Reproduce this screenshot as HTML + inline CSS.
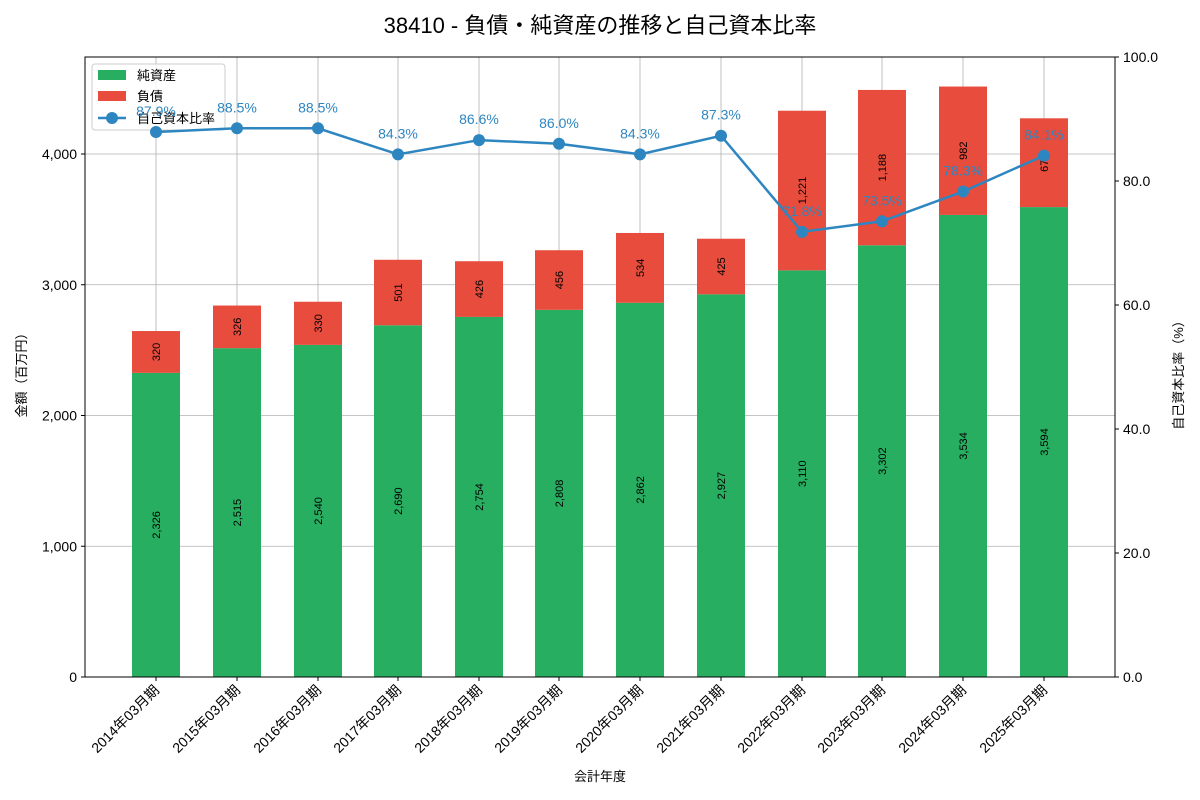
<!DOCTYPE html>
<html><head><meta charset="utf-8"><style>
html,body{margin:0;padding:0;background:#fff;}
svg{display:block;font-family:"Liberation Sans","Noto Sans CJK JP",sans-serif;}
</style></head><body>
<svg id="s" width="1200" height="800" xmlns="http://www.w3.org/2000/svg"></svg>
<script>
const s=document.getElementById('s');
const L=85,R=1115,T=57,B=677;
const yl=v=>B-v*0.13075, yr=p=>B-p*6.2;
const xs=[156,237,318,398,479,559,640,721,802,882,963,1044];
const na=[2326,2515,2540,2690,2754,2808,2862,2927,3110,3302,3534,3594];
const li=[320,326,330,501,426,456,534,425,1221,1188,982,679];
const rt=[87.9,88.5,88.5,84.3,86.6,86.0,84.3,87.3,71.8,73.5,78.3,84.1];
const yrs=["2014","2015","2016","2017","2018","2019","2020","2021","2022","2023","2024","2025"];
let h='';
h+=`<text x="600" y="33" font-size="22" text-anchor="middle" fill="#000">38410 - 負債・純資産の推移と自己資本比率</text>`;
xs.forEach(x=>h+=`<line x1="${x}" y1="${T}" x2="${x}" y2="${B}" stroke="#b0b0b0" stroke-width="0.8"/>`);
[1000,2000,3000,4000].forEach(v=>h+=`<line x1="${L}" y1="${yl(v)}" x2="${R}" y2="${yl(v)}" stroke="#b0b0b0" stroke-width="0.8"/>`);
xs.forEach((x,i)=>{
 const y0=yl(na[i]),y1=yl(na[i]+li[i]);
 h+=`<rect x="${x-24}" y="${y0}" width="48" height="${B-y0}" fill="#27ae60"/>`;
 h+=`<rect x="${x-24}" y="${y1}" width="48" height="${y0-y1}" fill="#e74c3c"/>`;
 const f=v=>v.toLocaleString('en-US');
 const m1=(B+y0)/2,m2=(y0+y1)/2;
 h+=`<text transform="translate(${x+4},${m1}) rotate(-90)" font-size="11" text-anchor="middle" fill="#000">${f(na[i])}</text>`;
 h+=`<text transform="translate(${x+4},${m2}) rotate(-90)" font-size="11" text-anchor="middle" fill="#000">${f(li[i])}</text>`;
});
// legend (under line)
h+=`<rect x="92" y="64" width="133" height="66" rx="3" fill="#fff" fill-opacity="0.8" stroke="#ccc"/>`;
h+=`<rect x="98" y="70" width="28" height="10" fill="#27ae60"/><text x="137" y="80" font-size="13">純資産</text>`;
h+=`<rect x="98" y="91" width="28" height="10" fill="#e74c3c"/><text x="137" y="101" font-size="13">負債</text>`;
h+=`<line x1="98" y1="118" x2="126" y2="118" stroke="#2e86c1" stroke-width="2.5"/><circle cx="112" cy="118" r="6" fill="#2e86c1"/><text x="137" y="123" font-size="13">自己資本比率</text>`;
h+=`<polyline points="${xs.map((x,i)=>x+','+yr(rt[i])).join(' ')}" fill="none" stroke="#2e86c1" stroke-width="2.5"/>`;
xs.forEach((x,i)=>{
 h+=`<circle cx="${x}" cy="${yr(rt[i])}" r="6" fill="#2e86c1"/>`;
 h+=`<text x="${x}" y="${yr(rt[i])-16}" font-size="14" text-anchor="middle" fill="#2e86c1">${rt[i].toFixed(1)}%</text>`;
});
h+=`<rect x="${L}" y="${T}" width="${R-L}" height="${B-T}" fill="none" stroke="#000" stroke-width="1"/>`;
[0,1000,2000,3000,4000].forEach(v=>{const y=yl(v);
 h+=`<line x1="${L-4}" y1="${y}" x2="${L}" y2="${y}" stroke="#000"/>`;
 h+=`<text x="${L-8}" y="${y+5}" font-size="14" text-anchor="end">${v.toLocaleString('en-US')}</text>`;});
[0,20,40,60,80,100].forEach(p=>{const y=yr(p);
 h+=`<line x1="${R}" y1="${y}" x2="${R+4}" y2="${y}" stroke="#000"/>`;
 h+=`<text x="${R+8}" y="${y+5}" font-size="14">${p.toFixed(1)}</text>`;});
xs.forEach((x,i)=>{
 h+=`<line x1="${x}" y1="${B}" x2="${x}" y2="${B+4}" stroke="#000"/>`;
 h+=`<text transform="translate(${x+4},${B+14}) rotate(-45)" font-size="14" text-anchor="end">${yrs[i]}年03月期</text>`;});
h+=`<text x="600" y="781" font-size="13" text-anchor="middle">会計年度</text>`;
h+=`<text transform="translate(26,372) rotate(-90)" font-size="13" text-anchor="middle">金額（百万円）</text>`;
h+=`<text transform="translate(1183,372) rotate(-90)" font-size="13" text-anchor="middle">自己資本比率（%）</text>`;
s.innerHTML=h;
</script>
</body></html>
